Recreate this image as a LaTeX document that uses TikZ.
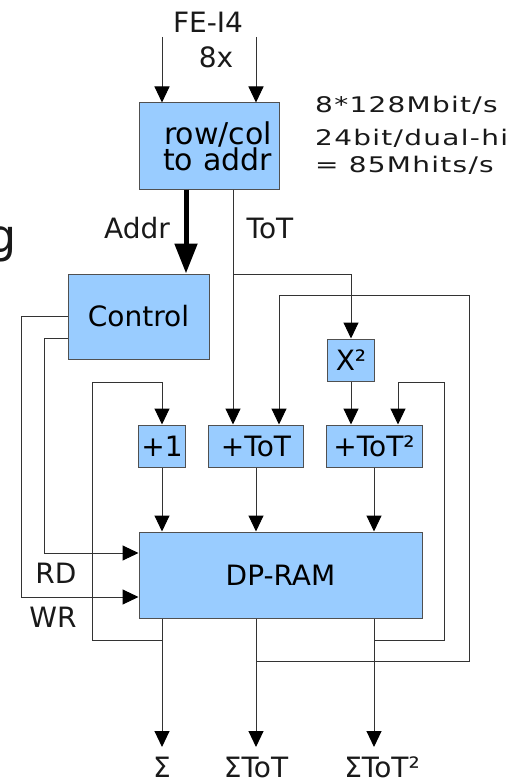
\documentclass[tikz,border=0pt]{standalone}
\usepackage{fontspec}
\setmainfont{DejaVu Sans}
\newfontfamily\ratefont[FakeStretch=1.3,LetterSpace=6]{DejaVu Sans}
\usetikzlibrary{arrows.meta,positioning,calc}
\definecolor{BlockBlue}{HTML}{99CCFF}
\definecolor{BlockEdge}{HTML}{505050}
\definecolor{WireGray}{HTML}{333333}
\tikzset{
    % Block style
    blocknode/.style={
        draw=BlockEdge,
        fill=BlockBlue,
        line width=1pt,
        inner sep=0pt,
        align=center
    },
    % Thin wire with arrow
    wirearrow/.style={
        -{Triangle[width=15pt,length=16pt,color=black]},
        line width=1pt,
        draw=WireGray
    },
    % Thin wire, no arrow
    plainwire/.style={
        line width=1pt,
        draw=WireGray
    },
    % Address bus
    busarrow/.style={
        -{Triangle[width=22pt,length=30pt]},
        line width=5pt,
        draw=black
    },
    % Plain label
    labeltext/.style={
        inner sep=0pt,
        text=black!90
    },
    % Rate text on the right
    ratetext/.style={
        inner sep=0pt,
        anchor=base west,
        text=black!90,
        font=\ratefont\fontsize{21.5}{26}\selectfont
    }
}
\begin{document}
\begin{tikzpicture}[x=1pt, y=-1pt, font=\fontsize{28}{30}\selectfont]
    \useasboundingbox (0,0) rectangle (508,778);

    % Cut-off letter
    \node[labeltext, anchor=base east, font=\fontsize{46}{50}\selectfont] (cutg) at (17,252) {g};

    % Input labels
    \node[labeltext] (fei4) at (208,22) {FE-I4};
    \node[labeltext] (times8) at (216,57) {8x};

    % Rate text
    \node[ratetext] (rate1) at (315,113) {8*128Mbit/s};
    \node[ratetext] (rate2) at (315,146) {24bit/dual-hi};
    \node[ratetext] (rate3) at (315,172) {= 85Mhits/s};

    % Blocks
    \node[blocknode, minimum width=140pt, minimum height=86pt, text width=126pt, align=right,
          font=\fontsize{30}{26}\selectfont] (rowcol) at (209,146) {row/col\\to addr};
    \node[blocknode, minimum width=141pt, minimum height=85pt] (control) at (138.5,316.5) {Control};
    \node[blocknode, minimum width=47pt, minimum height=42pt] (xsq) at (351,360) {X²};
    \node[blocknode, minimum width=47pt, minimum height=42pt] (plusone) at (162,446) {+1};
    \node[blocknode, minimum width=95pt, minimum height=42pt] (plustot) at (256,446) {+ToT};
    \node[blocknode, minimum width=96pt, minimum height=42pt] (plustotsq) at (374,446) {+ToT²};
    \node[blocknode, minimum width=283pt, minimum height=86pt] (dpram) at (280.5,575) {DP-RAM};

    % Outputs
    \node[labeltext, anchor=north, inner ysep=10pt] (sum) at (162,747) {Σ};
    \node[labeltext, anchor=north, inner ysep=10pt] (sumtot) at (256,747) {ΣToT};
    \node[labeltext, anchor=north, inner ysep=10pt, xshift=8pt] (sumtotsq) at (374,747) {ΣToT²};

    % Wire labels
    \node[labeltext] (addrlbl) at (137,228) {Addr};
    \node[labeltext] (totlbl) at (270,228) {ToT};
    \node[labeltext] (rdlbl) at (56,573) {RD};
    \node[labeltext] (wrlbl) at (53,617) {WR};

    % Helper points
    \coordinate (fein1) at (162,37);
    \coordinate (fein2) at (256,37);
    \coordinate (addrx) at (186,0);
    \coordinate (totx) at (233,0);
    \coordinate (totsplit) at (233,274);
    \coordinate (sumtap) at (162,640);
    \coordinate (tottap) at (256,661);
    \coordinate (sqtap) at (374,640);

    % Inputs
    \draw[wirearrow] (fein1) -- (fein1 |- rowcol.north);
    \draw[wirearrow] (fein2) -- (fein2 |- rowcol.north);

    % Address bus and ToT
    \draw[busarrow] (rowcol.south -| addrx) -- (control.north -| addrx);
    \draw[wirearrow] (rowcol.south -| totx) -- (plustot.north -| totx);
    \draw[wirearrow] (totsplit) -| (xsq.north);
    \draw[wirearrow] (xsq.south) -- (plustotsq.north -| xsq.south);

    % Into DP-RAM
    \draw[wirearrow] (plusone.south) -- (plusone |- dpram.north);
    \draw[wirearrow] (plustot.south) -- (plustot |- dpram.north);
    \draw[wirearrow] (plustotsq.south) -- (plustotsq |- dpram.north);

    % Control lines
    \draw[wirearrow] (control.west) -| (21,597) -- ([yshift=-22pt]dpram.west);
    \draw[wirearrow] ([yshift=-22pt]control.west) -| (44,553) -- ([yshift=22pt]dpram.west);

    % Outputs
    \draw[wirearrow] (dpram.south -| sum) -- (sum.north);
    \draw[wirearrow] (dpram.south -| sumtot) -- (sumtot.north -| sumtot);
    \draw[wirearrow] (dpram.south -| plustotsq) -- (sumtotsq.north -| plustotsq);

    % Feedback
    \draw[wirearrow] (sumtap) -- (92,640) |- (162,382) -- (plusone.north);
    \draw[wirearrow] (tottap) -- (469,661) |- (279,295) -- (plustot.north -| 279,0);
    \draw[wirearrow] (sqtap) -- (444,640) |- (398,382) -- (plustotsq.north -| 398,0);
\end{tikzpicture}
\end{document}
